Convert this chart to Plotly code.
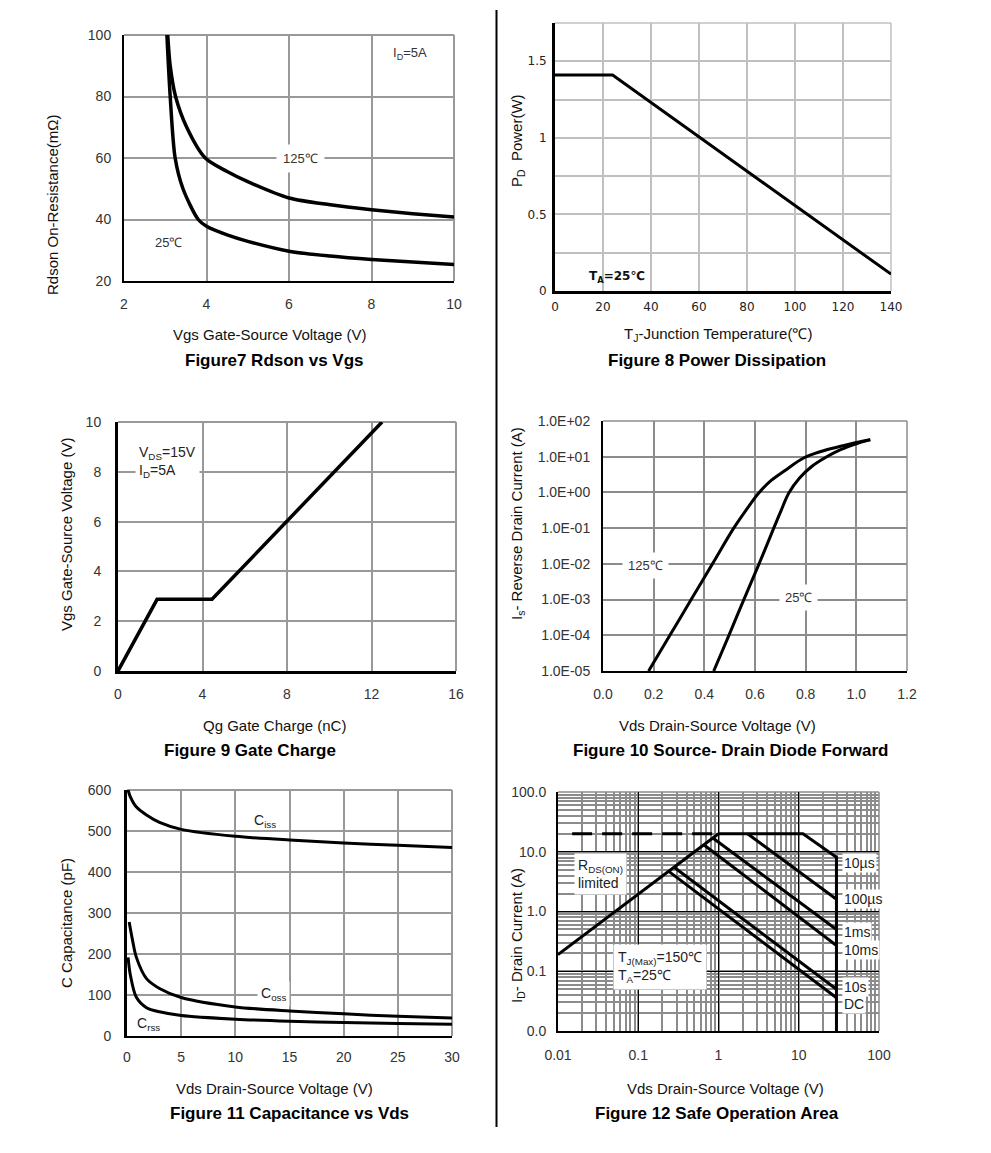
import plotly.graph_objects as go

W, H = 991, 1153
def X(p): return p / W
def Y(p): return 1 - p / H

FONT = "Liberation Sans, Arial, sans-serif"
TICKC = "#333333"

# ---------------- data ----------------
# Figure 7 Rdson vs Vgs
f7_vgs_25 = [3.04, 3.12, 3.24, 3.43, 3.8, 4.0, 4.5, 5, 6, 7, 8, 9, 10]
f7_rds_25 = [100, 80, 60, 50, 40, 37.8, 35.0, 32.9, 29.7, 28.1, 27.0, 26.2, 25.4]
f7_vgs_125 = [3.06, 3.12, 3.25, 3.52, 3.97, 4.5, 5, 6, 7, 8, 9, 10]
f7_rds_125 = [100, 90, 80, 70, 60, 55.6, 52.3, 47.0, 44.8, 43.2, 41.9, 40.8]

# Figure 8 Power dissipation
f8_tj = [0, 24, 140]
f8_pd = [1.41, 1.41, 0.11]
f8_ytickvals = [0, 0.25, 0.5, 0.75, 1.0, 1.25, 1.5, 1.75]
f8_yticktext = ["0", "", "0.5", "", "1", "", "1.5", ""]

# Figure 9 Gate charge
f9_qg = [0, 1.85, 4.45, 12.5]
f9_vgs = [0, 2.88, 2.88, 10]

# Figure 10 Source-drain diode forward
f10_vds_125 = [0.18, 0.264, 0.348, 0.432, 0.516, 0.566, 0.614, 0.665, 0.72, 0.792, 0.86, 0.93, 1.0, 1.055]
f10_is_125 = [1e-5, 1e-4, 1e-3, 1e-2, 1e-1, 0.33, 0.95, 2.2, 4.2, 9.2, 14, 19, 25, 30]
f10_vds_25 = [0.437, 0.497, 0.556, 0.616, 0.674, 0.703, 0.733, 0.775, 0.825, 0.878, 0.94, 1.0, 1.055]
f10_is_25 = [1e-5, 1e-4, 1e-3, 1e-2, 1e-1, 0.31, 0.95, 2.5, 5.4, 9.5, 16, 23, 30]
f10_ytickvals = [1e-5, 1e-4, 1e-3, 1e-2, 1e-1, 1, 10, 100]
f10_yticktext = ["1.0E-05", "1.0E-04", "1.0E-03", "1.0E-02", "1.0E-01",
                 "1.0E+00", "1.0E+01", "1.0E+02"]

# Figure 11 Capacitance vs Vds
f11_vds = [0.1, 0.3, 0.85, 1.8, 3, 5, 10, 15, 20, 25, 30]
f11_ciss = [600, 584, 559, 539, 521, 504, 487, 478, 471, 465, 460]
f11_vds_coss = [0.2, 0.5, 0.85, 1.8, 3, 5, 10, 15, 20, 25, 30]
f11_coss = [278, 235, 193, 140, 116, 94, 71, 61, 54, 48, 44]
f11_crss = [192, 150, 95, 69, 59, 50, 41, 36, 33, 30.5, 28.5]

# Figure 12 Safe operating area
f12_rds_v = [0.01, 1.0]
f12_rds_i = [0.19, 20]
f12_lim_v = [0.015, 1.0]
f12_lim_i = [20, 20]
f12_10us_v = [1.0, 11.3, 29.5, 29.5]
f12_10us_i = [20, 20, 8.1, 0.01]
f12_100us_v = [2.3, 29.5]
f12_100us_i = [20, 1.6]
f12_1ms_v = [0.85, 29.5]
f12_1ms_i = [17, 0.5]
f12_10ms_v = [0.66, 29.5]
f12_10ms_i = [13, 0.27]
f12_10s_v = [0.28, 29.5]
f12_10s_i = [5.5, 0.05]
f12_dc_v = [0.24, 29.5]
f12_dc_i = [4.7, 0.036]
f12_tickvals = [0.01, 0.1, 1, 10, 100]
f12_xticktext = ["0.01", "0.1", "1", "10", "100"]
f12_yticktext = ["0.0", "0.1", "1.0", "10.0", "100.0"]

fig = go.Figure()

def line(x, y, ax, width=3.5, shape="linear", dash="solid", smoothing=0.8):
    ln = dict(color="black", width=width, shape=shape, dash=dash)
    if shape == "spline":
        ln["smoothing"] = smoothing
    fig.add_trace(go.Scatter(x=x, y=y, xaxis="x" + ax, yaxis="y" + ax, mode="lines",
                             line=ln, showlegend=False, hoverinfo="skip"))

line(f7_vgs_25, f7_rds_25, "", shape="spline")
line(f7_vgs_125, f7_rds_125, "", shape="spline")
line(f8_tj, f8_pd, "2", width=3)
line(f9_qg, f9_vgs, "3", width=3.5)
line(f10_vds_125, f10_is_125, "4", width=3, shape="spline", smoothing=1)
line(f10_vds_25, f10_is_25, "4", width=3, shape="spline", smoothing=1)
line(f11_vds, f11_ciss, "5", width=3, shape="spline")
line(f11_vds_coss, f11_coss, "5", width=3, shape="spline")
line(f11_vds, f11_crss, "5", width=3, shape="spline")
line(f12_rds_v, f12_rds_i, "6", width=3)
line(f12_lim_v, f12_lim_i, "6", width=3, dash="20px,10px")
line(f12_10us_v, f12_10us_i, "6", width=3)
line(f12_100us_v, f12_100us_i, "6", width=3)
line(f12_1ms_v, f12_1ms_i, "6", width=3)
line(f12_10ms_v, f12_10ms_i, "6", width=3)
line(f12_10s_v, f12_10s_i, "6", width=3)
line(f12_dc_v, f12_dc_i, "6", width=3)

tf = dict(family=FONT, size=14, color=TICKC)

def xax(dom, anchor, ticklen, gridc="#999999", gw=2, lw=2, **kw):
    d = dict(domain=[X(dom[0]), X(dom[1])], anchor=anchor, showgrid=True, gridcolor=gridc,
             gridwidth=gw, showline=True, linecolor="black", linewidth=lw, zeroline=False,
             ticks="outside", ticklen=ticklen, tickcolor="rgba(0,0,0,0)", tickfont=tf,
             fixedrange=True, automargin=False)
    d.update(kw)
    return d

def yax(dom, anchor, ticklen, gridc="#999999", gw=2, lw=2, **kw):
    d = dict(domain=[Y(dom[1]), Y(dom[0])], anchor=anchor, showgrid=True, gridcolor=gridc,
             gridwidth=gw, showline=True, linecolor="black", linewidth=lw, zeroline=False,
             ticks="outside", ticklen=ticklen, tickcolor="rgba(0,0,0,0)", tickfont=tf,
             fixedrange=True, automargin=False)
    d.update(kw)
    return d

f8font = dict(family="DejaVu Sans, sans-serif", size=12, color="#222222")

layout = dict(
    width=W, height=H, margin=dict(l=0, r=0, t=0, b=0, pad=0, autoexpand=False), autosize=False,
    paper_bgcolor="white", plot_bgcolor="white", showlegend=False,
    xaxis=xax((124, 454), "y", 9, range=[2, 10], dtick=2, tick0=2),
    yaxis=yax((35, 281), "x", 8, range=[20, 100], dtick=20),
    xaxis2=xax((555, 891), "y2", 3, gridc="#c0c0c0", gw=1.5, lw=3, range=[0, 140], dtick=20,
               tickfont=f8font),
    yaxis2=yax((23, 291), "x2", 3, gridc="#c0c0c0", gw=1.5, lw=3, range=[0, 1.75],
               tickvals=f8_ytickvals, ticktext=f8_yticktext, tickfont=f8font),
    xaxis3=xax((118, 456), "y3", 8, lw=3, range=[0, 16], dtick=4),
    yaxis3=yax((422, 671), "x3", 11, lw=3, range=[0, 10], dtick=2),
    xaxis4=xax((603, 907), "y4", 9, gridc="#8c8c8c", gw=1.5, range=[0, 1.2], dtick=0.2,
               tickformat=".1f"),
    yaxis4=yax((421, 671), "x4", 8, gridc="#8c8c8c", gw=1.5, type="log", range=[-5, 2],
               tickvals=f10_ytickvals, ticktext=f10_yticktext),
    xaxis5=xax((127, 452), "y5", 7, range=[0, 30], dtick=5),
    yaxis5=yax((790, 1036), "x5", 10, lw=3, range=[0, 600], dtick=100),
    xaxis6=xax((558, 879), "y6", 10, gridc="black", gw=1, type="log", range=[-2, 2],
               tickvals=f12_tickvals, ticktext=f12_xticktext,
               minor=dict(dtick="D1", showgrid=True, gridcolor="#8c8c8c", gridwidth=1.5)),
    yaxis6=yax((792, 1031), "x6", 7, gridc="black", gw=1, type="log", range=[-2, 2],
               tickvals=f12_tickvals, ticktext=f12_yticktext,
               minor=dict(dtick="D1", showgrid=True, gridcolor="#8c8c8c", gridwidth=1.5)),
)
fig.update_layout(**layout)

shapes = []
def border(ax, color, width):
    xr, yr = "x" + ax + " domain", "y" + ax + " domain"
    shapes.append(dict(type="line", xref=xr, yref=yr, x0=0, x1=1, y0=1, y1=1,
                       line=dict(color=color, width=width), layer="below"))
    shapes.append(dict(type="line", xref=xr, yref=yr, x0=1, x1=1, y0=0, y1=1,
                       line=dict(color=color, width=width), layer="below"))

border("", "#999999", 2)
border("2", "#c0c0c0", 1.5)
border("3", "#999999", 2)
border("4", "#8c8c8c", 1.5)
border("5", "#999999", 2)
border("6", "#8c8c8c", 1.5)
# thin black reference line in Figure 8
shapes.append(dict(type="line", xref="x2 domain", yref="y2", x0=0.005, x1=0.995, y0=0.75, y1=0.75,
                   line=dict(color="black", width=1), layer="below"))
# vertical divider
shapes.append(dict(type="line", xref="paper", yref="paper", x0=X(496.5), x1=X(496.5),
                   y0=Y(10), y1=Y(1127), line=dict(color="black", width=2)))
fig.update_layout(shapes=shapes)

ann = []
def text(t, x, y, size=15, bold=False, angle=0, bg=None, xanchor="center", align="center",
         family=FONT, color="#111111", pad=1):
    a = dict(text=("<b>%s</b>" % t) if bold else t, xref="paper", yref="paper",
             x=X(x), y=Y(y), showarrow=False, textangle=angle, xanchor=xanchor,
             yanchor="middle", align=align,
             font=dict(family=family, size=size, color=color), borderpad=pad)
    if bg:
        a["bgcolor"] = bg
    ann.append(a)

# axis titles & figure titles
text("Vgs Gate-Source Voltage (V)", 269, 335)
text("Figure7 Rdson vs Vgs", 274, 361, size=17, bold=True, color="black")
text("Rdson On-Resistance(mΩ)", 52, 205, angle=-90)

text("T<sub>J</sub>-Junction Temperature(℃)", 718, 335)
text("Figure 8 Power Dissipation", 717, 361, size=17, bold=True, color="black")
text("P<sub>D</sub>  Power(W)", 517, 141, angle=-90)

text("Qg Gate Charge (nC)", 274, 725)
text("Figure 9 Gate Charge", 250, 750, size=17, bold=True, color="black")
text("Vgs Gate-Source Voltage (V)", 66, 535, angle=-90)

text("Vds Drain-Source Voltage (V)", 717, 725)
text("Figure 10 Source- Drain Diode Forward", 731, 750, size=17, bold=True, color="black")
text("I<sub>s</sub>- Reverse Drain Current (A)", 517, 524, angle=-90)

text("Vds Drain-Source Voltage (V)", 274, 1088)
text("Figure 11 Capacitance vs Vds", 289, 1113, size=17, bold=True, color="black")
text("C Capacitance (pF)", 66, 923, angle=-90)

text("Vds Drain-Source Voltage (V)", 725, 1088)
text("Figure 12 Safe Operation Area", 717, 1113, size=17, bold=True, color="black")
text("I<sub>D</sub>- Drain Current (A)", 517, 936, angle=-90)

# in-plot labels
text("I<sub>D</sub>=5A", 410, 53, size=13, color="#333333")
text("125℃", 300, 158, size=13, color="#333333", bg="white", pad=6)
text("25℃", 168, 243, size=13, color="#333333")

text("T<sub>A</sub>=25℃", 617, 277, size=12, bold=True, color="#111111",
     family="DejaVu Sans, sans-serif")

text("V<sub>DS</sub>=15V<br>I<sub>D</sub>=5A", 135, 462, size=14, color="#222222", bg="white",
     xanchor="left", align="left", pad=3)

text("125℃", 645, 565, size=13, color="#333333", bg="white", pad=5)
text("25℃", 798, 598, size=13, color="#333333", bg="white", pad=5)

text("C<sub>iss</sub>", 265, 821, size=14, color="#222222")
text("C<sub>oss</sub>", 273, 994, size=14, color="#222222", bg="white", pad=3)
text("C<sub>rss</sub>", 148, 1024, size=14, color="#222222")

text("R<sub>DS(ON)</sub><br>limited", 574, 874, size=14, color="#222222", bg="white",
     xanchor="left", align="left", pad=3)
text("T<sub>J(Max)</sub>=150℃<br>T<sub>A</sub>=25℃", 613, 967, size=14, color="#222222",
     bg="white", xanchor="left", align="left", pad=4)
for lab, yy in [("10µs", 863), ("100µs", 899), ("1ms", 932), ("10ms", 950), ("10s", 987),
                ("DC", 1004)]:
    text(lab, 842, yy, size=14, color="#222222", bg="white", xanchor="left", align="left", pad=1)

fig.update_layout(annotations=ann)

fig.write_html("out.html", post_script="document.body.style.margin='0';",
               config={"displayModeBar": False})
